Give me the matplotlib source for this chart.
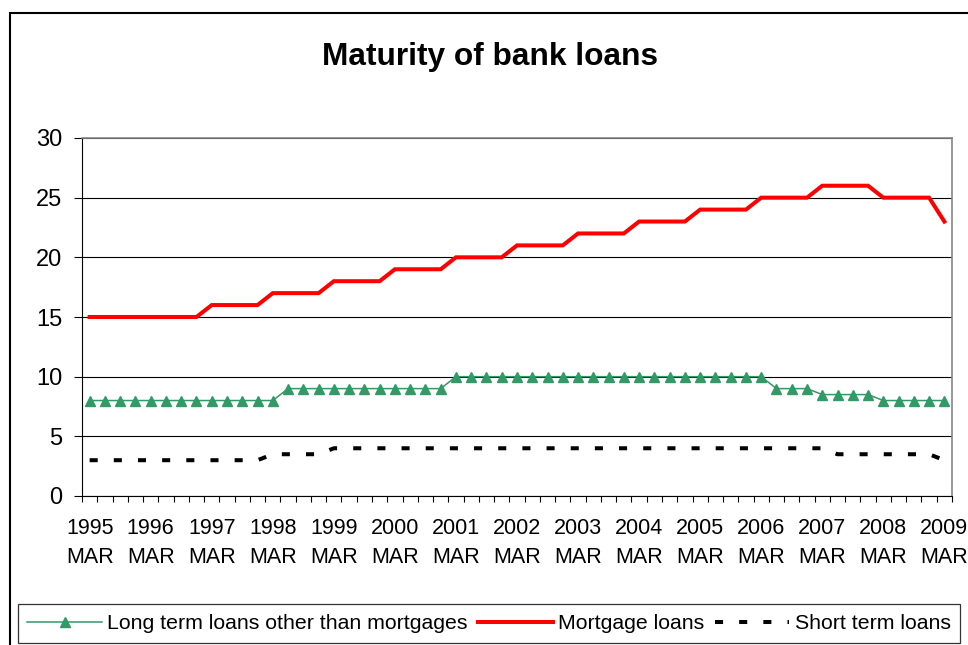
import numpy as np
import matplotlib
matplotlib.use("Agg")
import matplotlib.pyplot as plt
from matplotlib.patches import Rectangle

plt.rcParams['font.family'] = ['Liberation Sans', 'DejaVu Sans']

# quarterly observations, 1995 Q1 .. 2009 Q1 (years)
years = [str(y) for y in range(1995, 2010)]

long_term = [8, 8, 8, 8, 8, 8, 8, 8, 8, 8, 8, 8, 8,
             9, 9, 9, 9, 9, 9, 9, 9, 9, 9, 9,
             10, 10, 10, 10, 10, 10, 10, 10, 10, 10, 10, 10, 10, 10, 10, 10,
             10, 10, 10, 10, 10,
             9, 9, 9,
             8.5, 8.5, 8.5, 8.5,
             8, 8, 8, 8, 8]

mortgage = [15, 15, 15, 15, 15, 15, 15, 15,
            16, 16, 16, 16,
            17, 17, 17, 17,
            18, 18, 18, 18,
            19, 19, 19, 19,
            20, 20, 20, 20,
            21, 21, 21, 21,
            22, 22, 22, 22,
            23, 23, 23, 23,
            24, 24, 24, 24,
            25, 25, 25, 25,
            26, 26, 26, 26,
            25, 25, 25, 25,
            23]

short_term = [3, 3, 3, 3, 3, 3, 3, 3, 3, 3, 3, 3,
              3.5, 3.5, 3.5, 3.5,
              4, 4, 4, 4, 4, 4, 4, 4, 4, 4, 4, 4, 4, 4, 4, 4, 4,
              4, 4, 4, 4, 4, 4, 4, 4, 4, 4, 4, 4, 4, 4, 4, 4,
              3.5, 3.5, 3.5, 3.5, 3.5, 3.5, 3.5,
              3]

x = np.arange(len(mortgage))

fig = plt.figure(figsize=(9.68, 6.45), dpi=100)
ax = fig.add_axes([82 / 968, 1 - 496 / 645, 870 / 968, 358 / 645])

ax.plot(x, long_term, color='#339966', lw=1.1, marker='^', ms=6.5,
        label='Long term loans other than mortgages')
ax.plot(x, mortgage, color='#ff0000', lw=2.9, solid_joinstyle='miter',
        label='Mortgage loans')
ax.plot(x, short_term, color='black', lw=2.9, dashes=(2, 4),
        dash_capstyle='butt', label='Short term loans')

ax.set_xlim(-0.5, len(x) - 0.5)
ax.set_ylim(0, 30)
ax.set_yticks(np.arange(0, 31, 5))
ax.tick_params(axis='y', labelsize=17, length=6, width=0.8, pad=8)
ax.yaxis.grid(True, color='black', lw=0.8)
ax.set_axisbelow(True)

# tick marks on quarter boundaries, year labels under each March
ax.set_xticks(np.arange(-0.5, len(x), 1.0))
ax.set_xticklabels([])
ax.tick_params(axis='x', which='major', length=4.5, width=0.8)
ax.set_xticks(x[::4], [y + '\nMAR' for y in years], minor=True)
ax.tick_params(axis='x', which='minor', length=0, labelsize=15.5, pad=16)
for lab in ax.get_xticklabels(minor=True):
    lab.set_linespacing(1.5)

for side in ('top', 'right'):
    ax.spines[side].set_color('#868686')
    ax.spines[side].set_linewidth(1.2)
for side in ('left', 'bottom'):
    ax.spines[side].set_color('black')
    ax.spines[side].set_linewidth(0.8)

fig.text(489.5 / 968, 1 - 57 / 645, 'Maturity of bank loans',
         ha='center', va='center', fontsize=22.8, fontweight='bold')

leg = fig.legend(loc='center', bbox_to_anchor=(489 / 968, 1 - 623.5 / 645),
                 ncol=3, fontsize=15.3, frameon=True, fancybox=False,
                 handlelength=3.5, handletextpad=0.25, columnspacing=0.5,
                 borderpad=0.45, borderaxespad=0)
leg.get_frame().set_edgecolor('black')
leg.get_frame().set_linewidth(0.9)

# outer chart border
fig.patches.append(Rectangle((9.5 / 968, -0.1), 1.2, 1.1 - 12.5 / 645,
                             transform=fig.transFigure, fill=False,
                             edgecolor='black', lw=1.5))

fig.savefig('out.png', dpi=100)
